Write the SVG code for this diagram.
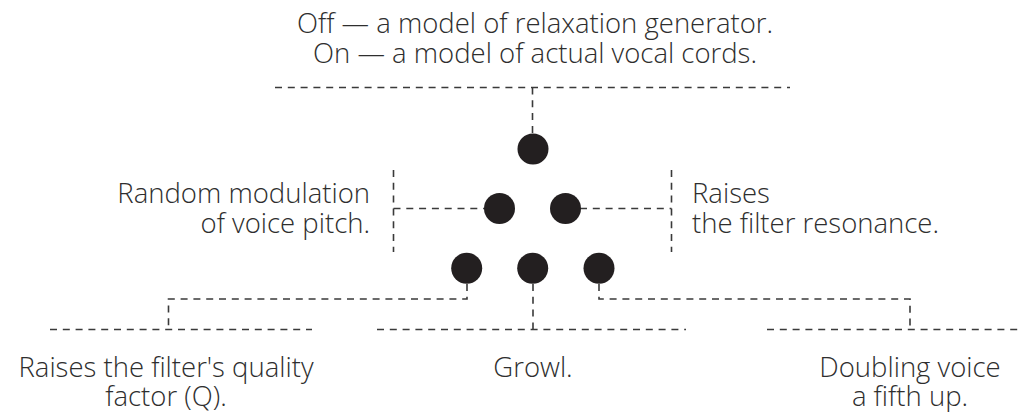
<svg xmlns="http://www.w3.org/2000/svg" width="1019" height="412" viewBox="0 0 1019 412">
<style>
.t{font-family:"Open Sans","Noto Sans","Liberation Sans",sans-serif;font-size:27.5px;font-weight:300;fill:#2e2e2e}
.m{text-anchor:middle}
.e{text-anchor:end}
.c{fill:none;stroke:#3a3a3a;stroke-width:1.6;stroke-dasharray:7 5.8}
.d{fill:#231f20}
</style>
<rect width="1019" height="412" fill="#ffffff"/>
<g id="connectors">
<path class="c" d="M275 87.5H790"/>
<path class="c" d="M532.5 87.5V133"/>
<path class="c" d="M393.5 170V252"/>
<path class="c" d="M393.5 208.5H485"/>
<path class="c" d="M671.5 170V252"/>
<path class="c" d="M580 208.5H671.5"/>
<path class="c" d="M467 284V299H168.5V329"/>
<path class="c" d="M50 329.5H312"/>
<path class="c" d="M533 284V329"/>
<path class="c" d="M377 329.5H686"/>
<path class="c" d="M599 284V299H910V329"/>
<path class="c" d="M767 329.5H1019"/>
</g>
<g id="node-top"><circle class="d" cx="533" cy="149" r="15.5"/></g>
<g id="node-mid-left"><circle class="d" cx="499.5" cy="208.5" r="15.5"/></g>
<g id="node-mid-right"><circle class="d" cx="565.5" cy="208.5" r="15.5"/></g>
<g id="node-bot-left"><circle class="d" cx="466.7" cy="268.3" r="15.5"/></g>
<g id="node-bot-mid"><circle class="d" cx="532.7" cy="268.3" r="15.5"/></g>
<g id="node-bot-right"><circle class="d" cx="599" cy="268.3" r="15.5"/></g>
<g id="label-top">
<text class="t m" x="535" y="33">Off — a model of relaxation generator.</text>
<text class="t m" x="535" y="63">On — a model of actual vocal cords.</text>
</g>
<g id="label-left">
<text class="t e" x="370" y="203">Random modulation</text>
<text class="t e" x="370" y="233">of voice pitch.</text>
</g>
<g id="label-right">
<text class="t" x="692" y="203">Raises</text>
<text class="t" x="692" y="233">the filter resonance.</text>
</g>
<g id="label-bot-left">
<text class="t m" x="166" y="377">Raises the filter's quality</text>
<text class="t m" x="166" y="406">factor (Q).</text>
</g>
<g id="label-bot-mid">
<text class="t m" x="533" y="377">Growl.</text>
</g>
<g id="label-bot-right">
<text class="t m" x="910" y="377">Doubling voice</text>
<text class="t m" x="910" y="406">a fifth up.</text>
</g>
</svg>
